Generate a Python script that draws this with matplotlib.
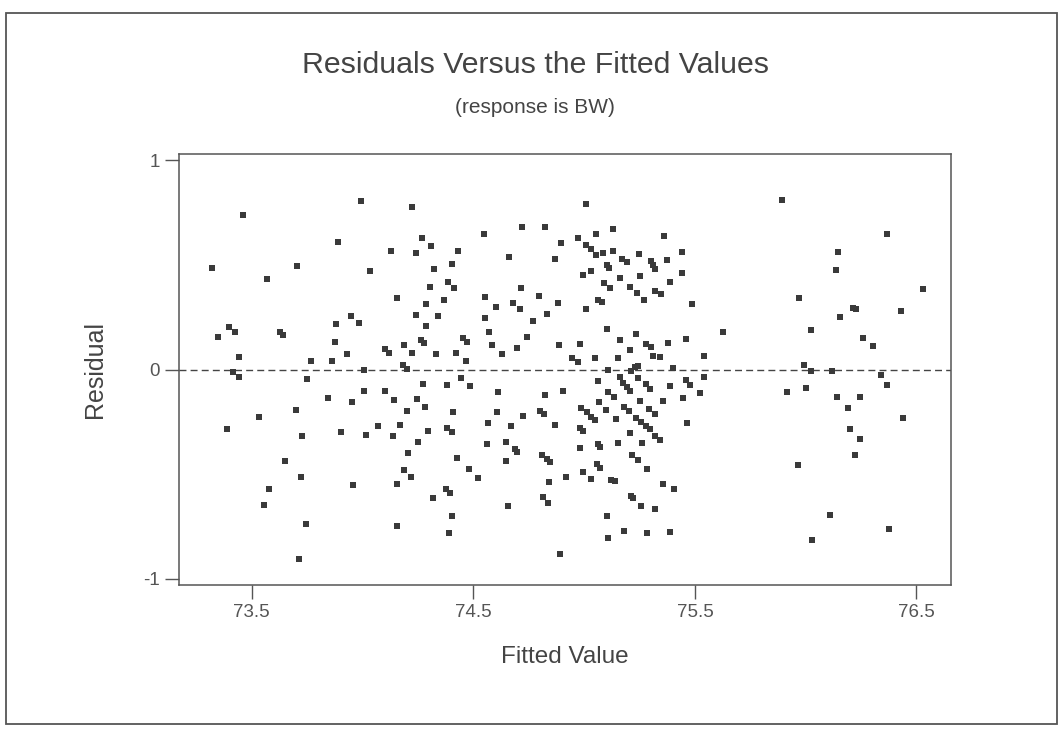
import matplotlib
matplotlib.use("Agg")
import matplotlib.pyplot as plt
from matplotlib.patches import Rectangle

# fitted values and residuals
fitted = [
    73.462, 73.993, 73.890, 73.319, 73.705, 73.569, 74.033, 73.948, 73.396, 73.346,
    73.424, 73.880, 73.984, 73.625, 73.639, 73.874, 73.443, 73.929, 73.768, 73.863,
    73.415, 74.005, 73.443, 73.750, 73.845, 74.005, 73.952, 73.700, 73.532, 73.388,
    73.728, 73.903, 74.017, 74.070, 73.648, 73.722, 73.577, 73.956, 73.554, 73.743,
    73.714,
    74.224, 74.269, 74.307, 74.130, 74.242, 74.431, 74.402, 74.322, 74.305, 74.384,
    74.411, 74.156, 74.369, 74.286, 74.239, 74.340, 74.288, 74.262, 74.275, 74.099,
    74.121, 74.188, 74.224, 74.331, 74.455, 74.470, 74.423, 74.465, 74.182, 74.201,
    74.548, 74.719, 74.824, 74.895, 74.662, 74.870, 74.713, 74.554, 74.795, 74.601,
    74.678, 74.711, 74.883, 74.554, 74.832, 74.771, 74.572, 74.741, 74.586, 74.627,
    74.696, 74.886, 74.943,
    74.103, 74.274, 74.382, 74.446, 74.483, 74.144, 74.247, 74.200, 74.283, 74.408,
    74.171, 74.138, 74.295, 74.382, 74.404, 74.250, 74.203, 74.424, 74.185, 74.219,
    74.481, 74.521, 74.156, 74.378, 74.395, 74.320, 74.404, 74.155, 74.388, 74.612,
    74.824, 74.903, 74.605, 74.723, 74.800, 74.820, 74.565, 74.671, 74.870, 74.563,
    74.648, 74.687, 74.696, 74.808, 74.833, 74.845, 74.646, 74.919, 74.841, 74.814,
    74.839, 74.658, 74.889,
    75.008, 74.971, 75.053, 75.132, 75.360, 75.007, 75.029, 75.052, 75.084, 75.132,
    75.173, 75.192, 75.247, 75.302, 75.313, 75.320, 75.376, 75.443, 74.996, 75.031,
    75.103, 75.111, 75.162, 75.251, 75.443, 75.088, 75.115, 75.209, 75.238, 75.322,
    75.345, 75.269, 75.387, 75.064, 75.081, 75.008, 75.488, 75.105, 74.981, 75.161,
    75.236, 75.281, 75.301, 75.207, 75.379, 75.459, 75.625, 74.971, 75.049, 75.152,
    75.310, 75.343, 75.542, 75.108, 75.210, 75.230, 75.242, 75.400,
    75.062, 75.163, 75.177, 75.192, 75.209, 75.243, 75.277, 75.295, 75.388, 75.459,
    75.480, 75.542, 75.523, 75.445, 75.357, 75.106, 75.133, 75.066, 75.251, 74.987,
    75.011, 75.029, 75.048, 75.099, 75.182, 75.204, 75.293, 75.319, 75.143, 75.232,
    75.257, 75.277, 75.295, 75.466, 74.981, 74.993, 75.209, 75.322, 75.342, 75.061,
    75.073, 74.981, 75.153, 75.262, 75.217, 75.241, 75.283, 75.059, 75.073, 74.993,
    75.031, 75.120, 75.139, 75.357, 75.407, 75.210, 75.222, 75.258, 75.322, 75.105,
    75.179, 75.284, 75.387, 75.106,
    75.895, 76.366, 76.147, 76.137, 76.530, 75.972, 76.215, 76.226, 76.431, 76.157,
    76.022, 76.260, 76.302, 75.992, 76.022, 76.119, 76.338, 76.367, 75.916, 76.000,
    76.143, 76.245, 76.192, 76.441, 76.201, 76.243, 76.224, 75.966, 76.108, 76.375,
    76.028,
]

residual = [
    0.739, 0.807, 0.609, 0.485, 0.495, 0.434, 0.469, 0.256, 0.205, 0.158,
    0.178, 0.220, 0.221, 0.179, 0.164, 0.132, 0.060, 0.075, 0.040, 0.040,
    -0.012, -0.002, -0.037, -0.043, -0.138, -0.102, -0.153, -0.195, -0.229, -0.283,
    -0.319, -0.298, -0.313, -0.272, -0.438, -0.515, -0.570, -0.550, -0.648, -0.737,
    -0.906,
    0.776, 0.629, 0.593, 0.567, 0.556, 0.567, 0.506, 0.480, 0.397, 0.419,
    0.392, 0.344, 0.334, 0.314, 0.262, 0.257, 0.210, 0.143, 0.128, 0.100,
    0.081, 0.116, 0.080, 0.075, 0.149, 0.132, 0.081, 0.040, 0.024, 0.002,
    0.650, 0.682, 0.683, 0.604, 0.536, 0.527, 0.390, 0.345, 0.354, 0.298,
    0.318, 0.290, 0.320, 0.246, 0.267, 0.231, 0.179, 0.157, 0.116, 0.075,
    0.101, 0.116, 0.053,
    -0.101, -0.071, -0.076, -0.039, -0.080, -0.144, -0.143, -0.196, -0.181, -0.205,
    -0.267, -0.316, -0.294, -0.277, -0.299, -0.346, -0.397, -0.423, -0.480, -0.516,
    -0.475, -0.518, -0.549, -0.569, -0.591, -0.616, -0.699, -0.747, -0.782, -0.105,
    -0.121, -0.102, -0.204, -0.221, -0.199, -0.213, -0.256, -0.269, -0.264, -0.357,
    -0.344, -0.381, -0.393, -0.407, -0.427, -0.444, -0.438, -0.512, -0.538, -0.609,
    -0.637, -0.652, -0.881,
    0.790, 0.631, 0.646, 0.672, 0.641, 0.594, 0.575, 0.548, 0.557, 0.567,
    0.528, 0.512, 0.552, 0.518, 0.499, 0.481, 0.522, 0.564, 0.454, 0.469,
    0.501, 0.485, 0.439, 0.449, 0.460, 0.415, 0.388, 0.394, 0.366, 0.378,
    0.359, 0.334, 0.420, 0.332, 0.321, 0.291, 0.314, 0.195, 0.122, 0.143,
    0.169, 0.124, 0.108, 0.095, 0.128, 0.148, 0.180, 0.034, 0.054, 0.055,
    0.063, 0.061, 0.064, -0.004, -0.005, 0.011, 0.016, 0.006,
    -0.054, -0.037, -0.063, -0.085, -0.104, -0.038, -0.068, -0.092, -0.080, -0.052,
    -0.075, -0.035, -0.114, -0.138, -0.152, -0.107, -0.132, -0.156, -0.148, -0.183,
    -0.205, -0.225, -0.241, -0.194, -0.178, -0.196, -0.187, -0.214, -0.235, -0.231,
    -0.250, -0.269, -0.284, -0.256, -0.278, -0.293, -0.305, -0.318, -0.335, -0.354,
    -0.370, -0.377, -0.350, -0.349, -0.410, -0.431, -0.475, -0.453, -0.471, -0.491,
    -0.522, -0.528, -0.534, -0.547, -0.569, -0.606, -0.614, -0.652, -0.669, -0.698,
    -0.772, -0.782, -0.776, -0.803,
    0.813, 0.647, 0.564, 0.476, 0.386, 0.340, 0.294, 0.289, 0.281, 0.251,
    0.189, 0.152, 0.111, 0.021, -0.009, -0.005, -0.026, -0.074, -0.107, -0.087,
    -0.130, -0.131, -0.182, -0.231, -0.283, -0.332, -0.410, -0.456, -0.695, -0.763,
    -0.814,
]

x_ticks = [73.5, 74.5, 75.5, 76.5]
x_ticklabels = ["73.5", "74.5", "75.5", "76.5"]
y_ticks = [-1, 0, 1]
y_ticklabels = ["-1", "0", "1"]

plt.rcParams["font.family"] = ["Liberation Sans", "DejaVu Sans"]

ink = "#3a3a3a"
fig = plt.figure(figsize=(10.6, 7.34), dpi=100)
ax = fig.add_axes([0.169, 0.203, 0.728, 0.587])

ax.scatter(fitted, residual, marker="s", s=18, color=ink, linewidths=0, zorder=3)
ax.axhline(0, color="#444444", lw=1.0, ls=(0, (5, 3)), zorder=2)

ax.set_xlim(73.172, 76.655)
ax.set_ylim(-1.03, 1.03)
ax.set_xticks(x_ticks)
ax.set_xticklabels(x_ticklabels)
ax.set_yticks(y_ticks)
ax.set_yticklabels(y_ticklabels)
ax.tick_params(direction="out", length=10, width=1, color="#555555",
               labelsize=13.5, labelcolor="#555555", pad=4)
for sp in ax.spines.values():
    sp.set_color("#555555")
    sp.set_linewidth(1.1)

ax.set_xlabel("Fitted Value", fontsize=17.5, color="#444444", labelpad=18)
ax.set_ylabel("Residual", fontsize=18, color="#444444", labelpad=26)

fig.text(0.505, 0.911, "Residuals Versus the Fitted Values", ha="center", va="center",
         fontsize=21.8, color="#444444")
fig.text(0.505, 0.853, "(response is BW)", ha="center", va="center",
         fontsize=15, color="#444444")

# outer frame around the whole graph
fig.patches.append(Rectangle((0.006, 0.014), 0.991, 0.968, transform=fig.transFigure,
                             fill=False, edgecolor="#555555", lw=1.3))

fig.savefig("out.png", dpi=100)
